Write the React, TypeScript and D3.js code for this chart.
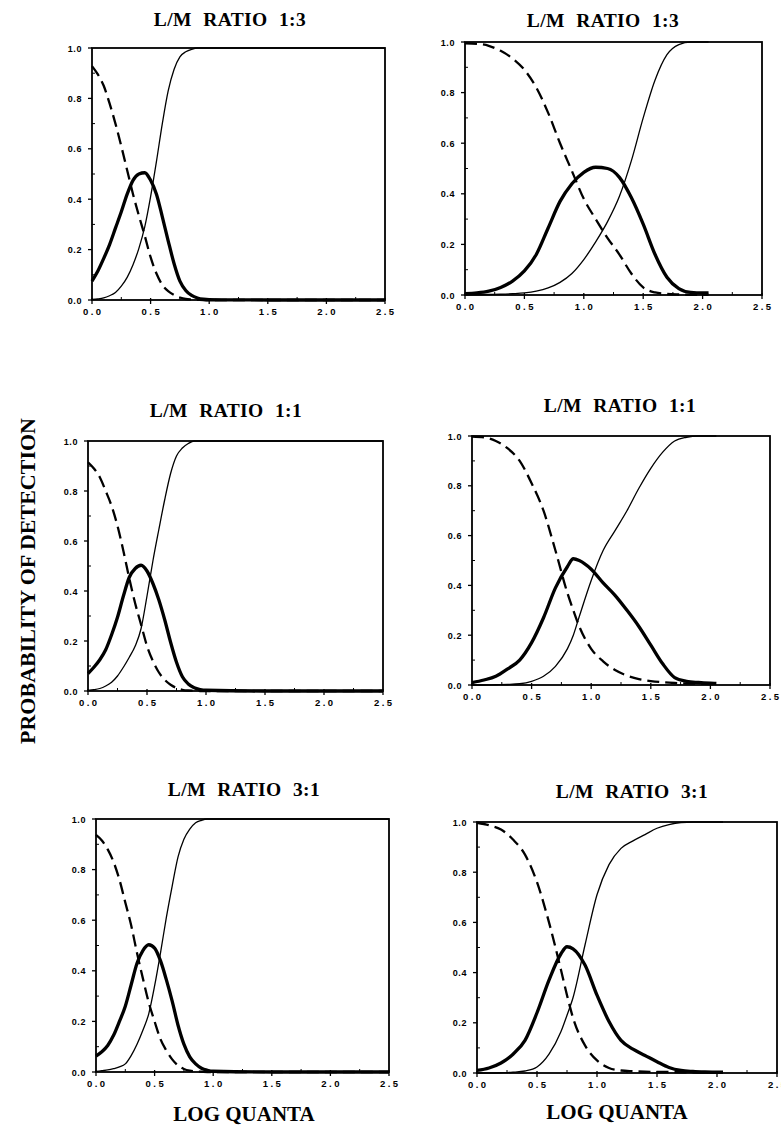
import React from 'react';
import * as d3 from 'd3';

// ---------- data ----------
const TITLES = ['L/M RATIO 1:3', 'L/M RATIO 1:3', 'L/M RATIO 1:1', 'L/M RATIO 1:1', 'L/M RATIO 3:1', 'L/M RATIO 3:1'];
const X_TICKS = [0, 0.5, 1.0, 1.5, 2.0, 2.5];
const X_MINOR = [0.25, 0.75, 1.25, 1.75, 2.25];
const Y_TICKS = [0, 0.2, 0.4, 0.6, 0.8, 1.0];
const Y_MINOR = [0.1, 0.3, 0.5, 0.7, 0.9];
const Y_LABEL = 'PROBABILITY OF DETECTION';
const X_LABEL = 'LOG QUANTA';

// left column x grid
const xsLeft = [0, 0.05, 0.1, 0.15, 0.2, 0.25, 0.3, 0.35, 0.4, 0.45, 0.5, 0.55, 0.6, 0.65, 0.7, 0.75, 0.8, 0.85, 0.9, 0.95, 1.0, 1.5, 2.0, 2.5];

// panel 1: L/M 1:3 (left)
const p1Dashed = [0.928, 0.895, 0.85, 0.78, 0.70, 0.61, 0.515, 0.42, 0.335, 0.255, 0.17, 0.105, 0.06, 0.035, 0.02, 0.01, 0.004, 0.002, 0.001, 0, 0, 0, 0, 0];
const p1Bold = [0.075, 0.115, 0.165, 0.22, 0.285, 0.35, 0.42, 0.475, 0.50, 0.505, 0.475, 0.42, 0.33, 0.235, 0.145, 0.075, 0.038, 0.018, 0.008, 0.003, 0.001, 0, 0, 0];
const p1Thin = [0.002, 0.004, 0.008, 0.017, 0.03, 0.055, 0.09, 0.14, 0.205, 0.29, 0.41, 0.55, 0.70, 0.83, 0.915, 0.965, 0.985, 0.995, 1, 1, 1, 1, 1, 1];

// panel 3: L/M 1:1 (left)
const p3Dashed = [0.915, 0.89, 0.855, 0.80, 0.74, 0.66, 0.56, 0.45, 0.35, 0.265, 0.18, 0.12, 0.075, 0.045, 0.025, 0.012, 0.005, 0.002, 0.001, 0, 0, 0, 0, 0];
const p3Bold = [0.07, 0.095, 0.125, 0.165, 0.225, 0.295, 0.38, 0.455, 0.49, 0.503, 0.48, 0.43, 0.365, 0.285, 0.195, 0.115, 0.057, 0.028, 0.013, 0.006, 0.003, 0, 0, 0];
const p3Thin = [0.002, 0.005, 0.01, 0.02, 0.035, 0.06, 0.095, 0.135, 0.18, 0.25, 0.38, 0.52, 0.645, 0.765, 0.87, 0.94, 0.972, 0.99, 1, 1, 1, 1, 1, 1];

// panel 5: L/M 3:1 (left)
const p5Dashed = [0.937, 0.915, 0.88, 0.83, 0.76, 0.67, 0.58, 0.47, 0.37, 0.275, 0.20, 0.13, 0.085, 0.05, 0.026, 0.012, 0.005, 0.002, 0.001, 0, 0, 0, 0, 0];
const p5Bold = [0.063, 0.08, 0.105, 0.145, 0.20, 0.26, 0.345, 0.43, 0.48, 0.503, 0.49, 0.44, 0.365, 0.28, 0.185, 0.11, 0.06, 0.032, 0.015, 0.007, 0.003, 0, 0, 0];
const p5Thin = [0.002, 0.005, 0.008, 0.013, 0.02, 0.032, 0.065, 0.11, 0.165, 0.23, 0.34, 0.47, 0.61, 0.735, 0.85, 0.92, 0.96, 0.985, 0.995, 1, 1, 1, 1, 1];

// panel 2: L/M 1:3 (right)
const xsP2 = [0, 0.1, 0.2, 0.3, 0.4, 0.5, 0.6, 0.7, 0.8, 0.9, 1.0, 1.1, 1.2, 1.3, 1.4, 1.5, 1.6, 1.7, 1.8, 1.9, 2.0, 2.05];
const p2Dashed = [0.995, 0.993, 0.985, 0.965, 0.935, 0.89, 0.82, 0.72, 0.60, 0.49, 0.38, 0.30, 0.225, 0.16, 0.085, 0.03, 0.01, 0.004, 0.002, 0.001, 0.001, 0.001];
const p2Bold = [0.005, 0.008, 0.015, 0.03, 0.055, 0.095, 0.16, 0.265, 0.37, 0.44, 0.485, 0.505, 0.50, 0.465, 0.385, 0.28, 0.16, 0.07, 0.025, 0.01, 0.008, 0.008];
const p2Thin = [0, 0.001, 0.002, 0.003, 0.005, 0.008, 0.015, 0.028, 0.05, 0.085, 0.14, 0.21, 0.29, 0.39, 0.53, 0.70, 0.85, 0.95, 0.99, 1, 1, 1];

// panel 4: L/M 1:1 (right)
const xsP4 = [0, 0.1, 0.2, 0.3, 0.4, 0.5, 0.6, 0.7, 0.8, 0.85, 0.9, 1.0, 1.1, 1.2, 1.3, 1.4, 1.5, 1.6, 1.7, 1.8, 1.9, 2.0, 2.05];
const p4Dashed = [0.998, 0.995, 0.98, 0.95, 0.90, 0.81, 0.70, 0.54, 0.37, 0.30, 0.235, 0.145, 0.095, 0.06, 0.038, 0.024, 0.016, 0.011, 0.008, 0.006, 0.005, 0.004, 0.004];
const p4Bold = [0.01, 0.02, 0.035, 0.065, 0.10, 0.17, 0.27, 0.39, 0.475, 0.507, 0.50, 0.465, 0.41, 0.36, 0.30, 0.235, 0.16, 0.085, 0.03, 0.015, 0.01, 0.007, 0.006];
const p4Thin = [0, 0, 0.001, 0.002, 0.005, 0.015, 0.035, 0.075, 0.145, 0.20, 0.275, 0.42, 0.54, 0.62, 0.70, 0.79, 0.87, 0.935, 0.98, 0.995, 1, 1, 1];

// panel 6: L/M 3:1 (right)
const xsP6 = [0, 0.1, 0.2, 0.3, 0.4, 0.5, 0.6, 0.7, 0.75, 0.8, 0.9, 1.0, 1.1, 1.2, 1.3, 1.4, 1.5, 1.6, 1.7, 1.8, 1.9, 2.0, 2.05];
const p6Dashed = [0.997, 0.987, 0.97, 0.93, 0.87, 0.76, 0.60, 0.41, 0.31, 0.22, 0.11, 0.05, 0.02, 0.01, 0.007, 0.005, 0.004, 0.004, 0.003, 0.003, 0.003, 0.003, 0.003];
const p6Bold = [0.01, 0.02, 0.04, 0.075, 0.13, 0.24, 0.37, 0.475, 0.503, 0.495, 0.43, 0.31, 0.205, 0.13, 0.095, 0.07, 0.045, 0.022, 0.01, 0.006, 0.004, 0.003, 0.003];
const p6Thin = [0, 0, 0.001, 0.003, 0.008, 0.024, 0.075, 0.165, 0.23, 0.30, 0.51, 0.71, 0.83, 0.895, 0.925, 0.95, 0.975, 0.99, 0.998, 1, 1, 1, 1];

// ---------- layout (positions only) ----------
const FRAMES = [
  { l: 92, r: 385, t: 48, b: 300, tx: 230, ty: 26 },
  { l: 465, r: 762, t: 42, b: 295, tx: 603, ty: 27 },
  { l: 88, r: 383, t: 441, b: 691, tx: 226, ty: 417 },
  { l: 472, r: 770, t: 436, b: 685, tx: 620, ty: 412 },
  { l: 96, r: 389, t: 819, b: 1072, tx: 244, ty: 796 },
  { l: 477, r: 777, t: 822, b: 1073, tx: 632, ty: 798 },
];

const PANELS = [
  { xs: xsLeft, dashed: p1Dashed, bold: p1Bold, thin: p1Thin },
  { xs: xsP2, dashed: p2Dashed, bold: p2Bold, thin: p2Thin },
  { xs: xsLeft, dashed: p3Dashed, bold: p3Bold, thin: p3Thin },
  { xs: xsP4, dashed: p4Dashed, bold: p4Bold, thin: p4Thin },
  { xs: xsLeft, dashed: p5Dashed, bold: p5Bold, thin: p5Thin },
  { xs: xsP6, dashed: p6Dashed, bold: p6Bold, thin: p6Thin },
];

const SERIF = '"Liberation Serif", "Times New Roman", serif';
const SANS = '"Liberation Sans", Arial, sans-serif';

function Panel({ idx }: { idx: number }) {
  const f = FRAMES[idx];
  const p = PANELS[idx];
  const x = d3.scaleLinear().domain([0, 2.5]).range([f.l, f.r]);
  const y = d3.scaleLinear().domain([0, 1]).range([f.b, f.t]);
  const mk = (vals: number[]) =>
    d3.line<number>().x((_, i) => x(p.xs[i])).y((v) => y(v)).curve(d3.curveMonotoneX)(vals) || '';
  const xls = 2.5;
  return (
    <g>
      <text x={f.tx} y={f.ty} textAnchor="middle" fontFamily={SERIF} fontWeight="bold" fontSize={19.5}
        style={{ letterSpacing: '0.4px', wordSpacing: '6px' }}>{TITLES[idx]}</text>
      <path d={mk(p.thin)} fill="none" stroke="#000" strokeWidth={1.3} />
      <path d={mk(p.dashed)} fill="none" stroke="#000" strokeWidth={2.3} strokeDasharray="12,6" />
      <path d={mk(p.bold)} fill="none" stroke="#000" strokeWidth={3.3} strokeLinejoin="round" />
      <rect x={f.l} y={f.t} width={f.r - f.l} height={f.b - f.t} fill="none" stroke="#000" strokeWidth={1.8} />
      {Y_TICKS.map((v) => (
        <g key={'yt' + v}>
          <line x1={f.l - 4} x2={f.l} y1={y(v)} y2={y(v)} stroke="#000" strokeWidth={1.3} />
          <text x={f.l - 10} y={y(v) + 3.5} textAnchor="end" fontFamily={SANS} fontWeight="bold" fontSize={9}
            style={{ letterSpacing: '0.6px' }}>{d3.format('.1f')(v)}</text>
        </g>
      ))}
      {Y_MINOR.map((v) => (
        <line key={'ym' + v} x1={f.l} x2={f.l + 3} y1={y(v)} y2={y(v)} stroke="#000" strokeWidth={1} />
      ))}
      {X_TICKS.map((v) => (
        <g key={'xt' + v}>
          <line x1={x(v)} x2={x(v)} y1={f.b - 2} y2={f.b + 4} stroke="#000" strokeWidth={1.3} />
          <text x={x(v)} dx={xls / 2} y={f.b + 14.5} textAnchor="middle" fontFamily={SANS} fontWeight="bold" fontSize={9.5}
            style={{ letterSpacing: xls + 'px' }}>{d3.format('.1f')(v)}</text>
        </g>
      ))}
      {X_MINOR.map((v) => (
        <line key={'xm' + v} x1={x(v)} x2={x(v)} y1={f.b - 3} y2={f.b} stroke="#000" strokeWidth={1} />
      ))}
    </g>
  );
}

export default function App() {
  return (
    <svg width={781} height={1130} viewBox="0 0 781 1130"
      style={{ position: 'absolute', left: 0, top: 0, background: '#fff' }}>
      <rect x={0} y={0} width={781} height={1130} fill="#fff" />
      {FRAMES.map((_, i) => <Panel key={i} idx={i} />)}
      <text transform="translate(35,581) rotate(-90)" textAnchor="middle" fontFamily={SERIF} fontWeight="bold" fontSize={22}>{Y_LABEL}</text>
      <text x={244} y={1121} textAnchor="middle" fontFamily={SERIF} fontWeight="bold" fontSize={21}>{X_LABEL}</text>
      <text x={617} y={1119} textAnchor="middle" fontFamily={SERIF} fontWeight="bold" fontSize={21}>{X_LABEL}</text>
    </svg>
  );
}
